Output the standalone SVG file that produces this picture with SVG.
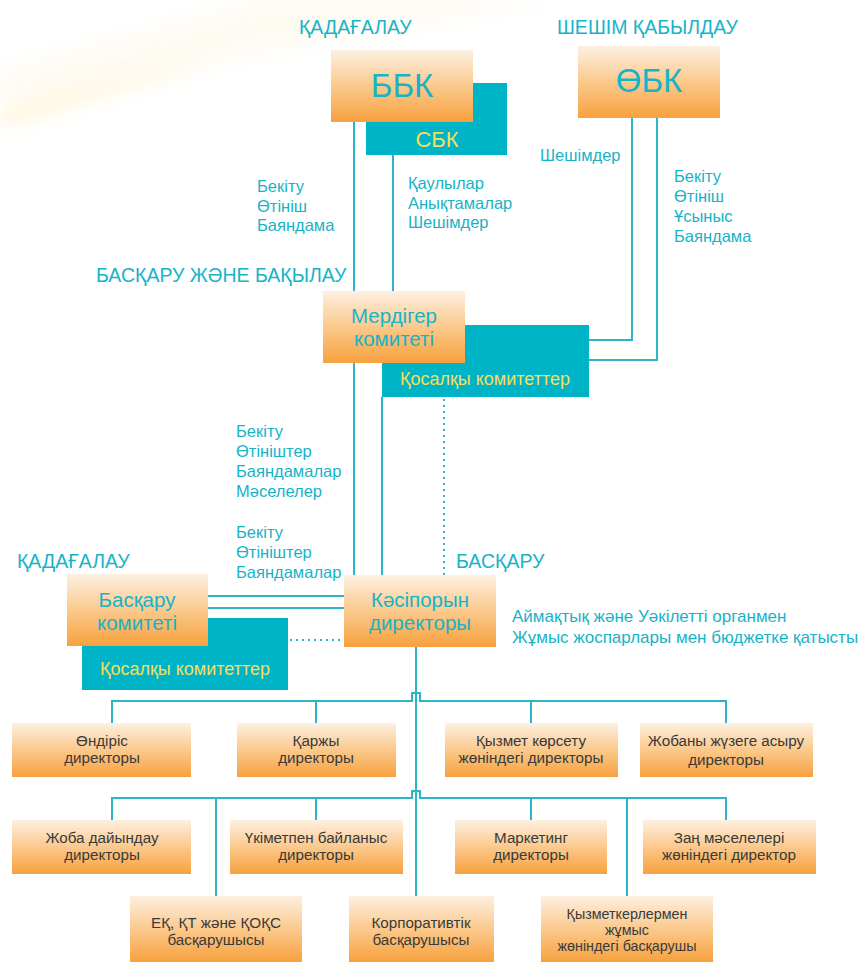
<svg xmlns="http://www.w3.org/2000/svg" width="868" height="962" viewBox="0 0 868 962">
<defs>
<linearGradient id="og" x1="0" y1="0" x2="0" y2="1">
<stop offset="0" stop-color="#fdf0e2"/>
<stop offset="0.5" stop-color="#fbc98c"/>
<stop offset="1" stop-color="#f7a13e"/>
</linearGradient>
<filter id="blur" x="-20%" y="-50%" width="140%" height="200%"><feGaussianBlur stdDeviation="9"/></filter>
<style>
.ob{fill:url(#og)}
.tb{fill:#00b4c8}
.ln{stroke:#2ab6c8;stroke-width:2;fill:none}
.dt{stroke:#2ab6c8;stroke-width:2;fill:none;stroke-dasharray:2 4}
.t{font-family:"Liberation Sans","Open Sans",sans-serif;fill:#17b3c7}
.h{font-size:19.5px}
.l{font-size:16.5px}
.big{font-size:33px;text-anchor:middle}
.mid{font-size:20.5px;text-anchor:middle}
.y{font-family:"Liberation Sans","Open Sans",sans-serif;fill:#f6df57;text-anchor:middle}
.d{font-family:"Liberation Sans","Open Sans",sans-serif;fill:#3a3a3a;font-size:15.2px;text-anchor:middle}
.s{font-size:14.3px}
</style>
</defs>
<rect width="868" height="962" fill="#ffffff"/>
<g id="streak" filter="url(#blur)" opacity="0.55">
<polygon points="0,108 280,25 300,38 0,128" fill="#fdefc6"/>
<polygon points="0,70 260,0 560,0 0,100" fill="#fef8ea"/>
</g>

<g id="connectors">
<line class="ln" x1="354" y1="122" x2="354" y2="291"/>
<line class="ln" x1="393" y1="155" x2="393" y2="291"/>
<polyline class="ln" points="632,118 632,340 589,340"/>
<polyline class="ln" points="657,118 657,360 589,360"/>
<line class="ln" x1="354" y1="363" x2="354" y2="575"/>
<line class="ln" x1="382" y1="397" x2="382" y2="575"/>
<line class="dt" x1="444" y1="399" x2="444" y2="575"/>
<line class="ln" x1="208" y1="596" x2="344" y2="596"/>
<line class="ln" x1="208" y1="608" x2="344" y2="608"/>
<line class="dt" x1="290" y1="640" x2="344" y2="640"/>
<line class="ln" x1="416" y1="647" x2="416" y2="896"/>
<polyline class="ln" points="112,723 112,701 412,701 412,693 420,693 420,701 726,701 726,723"/>
<line class="ln" x1="316" y1="701" x2="316" y2="723"/>
<line class="ln" x1="531" y1="701" x2="531" y2="723"/>
<polyline class="ln" points="112,820 112,798 412,798 412,791 420,791 420,798 726,798 726,820"/>
<line class="ln" x1="216" y1="798" x2="216" y2="896"/>
<line class="ln" x1="316" y1="798" x2="316" y2="820"/>
<line class="ln" x1="531" y1="798" x2="531" y2="820"/>
<line class="ln" x1="627" y1="798" x2="627" y2="896"/>
</g>

<g id="labels">
<text class="t h" x="299" y="34">ҚАДАҒАЛАУ</text>
<text class="t h" x="557" y="34">ШЕШІМ ҚАБЫЛДАУ</text>
<text class="t h" x="96" y="282">БАСҚАРУ ЖӘНЕ БАҚЫЛАУ</text>
<text class="t h" x="17" y="568">ҚАДАҒАЛАУ</text>
<text class="t h" x="456" y="568">БАСҚАРУ</text>
<text class="t l" x="257" y="192"><tspan x="257">Бекіту</tspan><tspan x="257" dy="19.5">Өтініш</tspan><tspan x="257" dy="19.5">Баяндама</tspan></text>
<text class="t l" x="408" y="189"><tspan x="408">Қаулылар</tspan><tspan x="408" dy="19.5">Анықтамалар</tspan><tspan x="408" dy="19.5">Шешімдер</tspan></text>
<text class="t l" x="540" y="161">Шешімдер</text>
<text class="t l" x="674" y="182"><tspan x="674">Бекіту</tspan><tspan x="674" dy="20">Өтініш</tspan><tspan x="674" dy="20">Ұсыныс</tspan><tspan x="674" dy="20">Баяндама</tspan></text>
<text class="t l" x="236" y="437"><tspan x="236">Бекіту</tspan><tspan x="236" dy="20">Өтініштер</tspan><tspan x="236" dy="20">Баяндамалар</tspan><tspan x="236" dy="19.5">Мәселелер</tspan></text>
<text class="t l" x="236" y="538"><tspan x="236">Бекіту</tspan><tspan x="236" dy="20">Өтініштер</tspan><tspan x="236" dy="20">Баяндамалар</tspan></text>
<text class="t" style="font-size:17px" x="512" y="622"><tspan x="512">Аймақтық және Уәкілетті органмен</tspan><tspan x="512" dy="21">Жұмыс жоспарлары мен бюджетке қатысты</tspan></text>
</g>

<g id="bbk">
<rect class="tb" x="366" y="83" width="141" height="72"/>
<text class="y" style="font-size:22px" x="437" y="147">СБК</text>
<rect class="ob" x="331" y="50" width="142" height="72"/>
<text class="t big" x="402" y="97">ББК</text>
</g>
<g id="obk">
<rect class="ob" x="578" y="46" width="142" height="72"/>
<text class="t big" x="649" y="92">ӨБК</text>
</g>
<g id="merdiger">
<rect class="tb" x="382" y="325" width="207" height="72"/>
<text class="y" style="font-size:18px" x="485" y="385">Қосалқы комитеттер</text>
<rect class="ob" x="323" y="291" width="142" height="72"/>
<text class="t mid" x="394" y="323"><tspan x="394">Мердігер</tspan><tspan x="394" dy="23">комитеті</tspan></text>
</g>
<g id="baskaru">
<rect class="tb" x="82" y="618" width="206" height="72"/>
<text class="y" style="font-size:18px" x="185" y="675">Қосалқы комитеттер</text>
<rect class="ob" x="67" y="574" width="141" height="72"/>
<text class="t mid" x="137" y="607"><tspan x="137">Басқару</tspan><tspan x="137" dy="23">комитеті</tspan></text>
</g>
<g id="kasiporyn">
<rect class="ob" x="344" y="575" width="152" height="72"/>
<text class="t mid" x="420" y="607"><tspan x="420">Кәсіпорын</tspan><tspan x="420" dy="23">директоры</tspan></text>
</g>

<g id="n1"><rect class="ob" x="12" y="723" width="179" height="54"/>
<text class="d" x="102" y="746"><tspan x="102">Өндіріс</tspan><tspan x="102" dy="17">директоры</tspan></text></g>
<g id="n2"><rect class="ob" x="237" y="723" width="159" height="54"/>
<text class="d" x="316" y="746"><tspan x="316">Қаржы</tspan><tspan x="316" dy="17">директоры</tspan></text></g>
<g id="n3"><rect class="ob" x="445" y="723" width="173" height="54"/>
<text class="d" x="531" y="746"><tspan x="531">Қызмет көрсету</tspan><tspan x="531" dy="17">жөніндегі директоры</tspan></text></g>
<g id="n4"><rect class="ob" x="640" y="723" width="173" height="54"/>
<text class="d" x="726" y="746"><tspan x="726">Жобаны жүзеге асыру</tspan><tspan x="726" dy="19">директоры</tspan></text></g>

<g id="n5"><rect class="ob" x="12" y="820" width="179" height="54"/>
<text class="d" x="102" y="843"><tspan x="102">Жоба дайындау</tspan><tspan x="102" dy="17">директоры</tspan></text></g>
<g id="n6"><rect class="ob" x="230" y="820" width="173" height="54"/>
<text class="d" x="316" y="843"><tspan x="316">Үкіметпен байланыс</tspan><tspan x="316" dy="17">директоры</tspan></text></g>
<g id="n7"><rect class="ob" x="455" y="820" width="152" height="54"/>
<text class="d" x="531" y="843"><tspan x="531">Маркетинг</tspan><tspan x="531" dy="17">директоры</tspan></text></g>
<g id="n8"><rect class="ob" x="643" y="820" width="173" height="54"/>
<text class="d" x="729" y="843"><tspan x="729">Заң мәселелері</tspan><tspan x="729" dy="17">жөніндегі директор</tspan></text></g>

<g id="n9"><rect class="ob" x="130" y="896" width="172" height="66"/>
<text class="d" x="216" y="928"><tspan x="216">ЕҚ, ҚТ және ҚОҚС</tspan><tspan x="216" dy="17">басқарушысы</tspan></text></g>
<g id="n10"><rect class="ob" x="349" y="896" width="145" height="66"/>
<text class="d" x="421" y="928"><tspan x="421">Корпоративтік</tspan><tspan x="421" dy="17">басқарушысы</tspan></text></g>
<g id="n11"><rect class="ob" x="541" y="896" width="172" height="66"/>
<text class="d s" x="627" y="919"><tspan x="627">Қызметкерлермен</tspan><tspan x="627" dy="16">жұмыс</tspan><tspan x="627" dy="16">жөніндегі басқарушы</tspan></text></g>
</svg>
